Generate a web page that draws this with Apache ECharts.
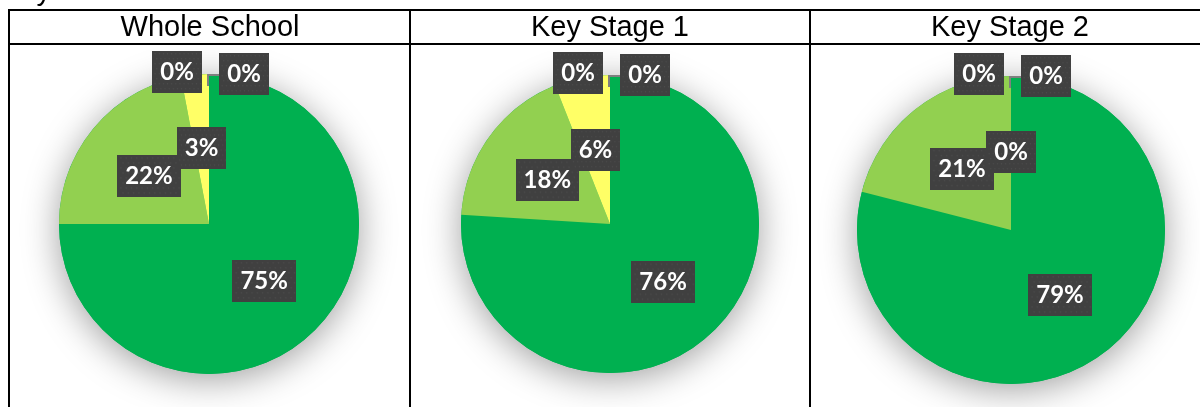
<!DOCTYPE html>
<html>
<head>
<meta charset="utf-8">
<script src="https://cdn.jsdelivr.net/npm/echarts@6/dist/echarts.min.js"></script>
<style>
  html, body { margin: 0; padding: 0; background: #ffffff; }
  #chart { width: 1200px; height: 407px; }
</style>
</head>
<body>
<div id="chart"></div>
<script>
// Survey answers, as percentages of pupils in each group
const categories = ['Strongly agree', 'Agree', 'Not sure', 'Disagree', 'Strongly disagree'];
const groupNames = ['Whole School', 'Key Stage 1', 'Key Stage 2'];
const wholeSchool = [75, 22, 3, 0, 0];
const keyStage1 = [76, 18, 6, 0, 0];
const keyStage2 = [79, 21, 0, 0, 0];
const sliceColors = ['#00B050', '#92D050', '#FFFF66', '#FFC000', '#FF0000'];

// Layout of the three table cells and their pies
const cellCentres = [210, 610, 1010];
const pieLayouts = [
  { cx: 209, cy: 224, r: 150 },
  { cx: 610, cy: 224, r: 149 },
  { cx: 1011, cy: 230, r: 154 }
];
const groupValues = [wholeSchool, keyStage1, keyStage2];

// Dark label box with a faint dotted texture
function makeLabelTexture() {
  const c = document.createElement('canvas');
  c.width = 60; c.height = 42;
  const g = c.getContext('2d');
  g.fillStyle = '#404040';
  g.fillRect(0, 0, c.width, c.height);
  g.fillStyle = '#4b4b4b';
  for (let y = 2; y < c.height; y += 5) {
    for (let x = 2 + ((y / 5) % 2) * 2; x < c.width; x += 5) {
      g.fillRect(x, y, 1.5, 1.5);
    }
  }
  return c;
}
const labelTexture = makeLabelTexture();

// Label nudges per answer: the two empty answers sit at the top edge, one either side
function labelOffset(i, r) {
  if (i === 3) return [-32, -r / 2 + 1];
  if (i === 4) return [35, -r / 2 + 3];
  return [0, 2];
}

const chart = echarts.init(document.getElementById('chart'), null, { renderer: 'canvas' });

const series = [];
const graphic = [];

groupValues.forEach((values, gi) => {
  const L = pieLayouts[gi];
  // Soft drop shadow underneath the whole pie
  series.push({
    type: 'pie',
    silent: true,
    center: [L.cx, L.cy],
    radius: L.r,
    z: 1,
    label: { show: false },
    labelLine: { show: false },
    itemStyle: {
      color: '#00B050',
      shadowBlur: 36,
      shadowOffsetY: 6,
      shadowColor: 'rgba(0,0,0,0.38)'
    },
    data: [{ value: 1, name: '' }]
  });
  // The answers themselves
  series.push({
    type: 'pie',
    name: groupNames[gi],
    center: [L.cx, L.cy],
    radius: L.r,
    startAngle: 90,
    clockwise: true,
    z: 2,
    silent: true,
    avoidLabelOverlap: false,
    minShowLabelAngle: 0,
    stillShowZeroSum: true,
    labelLayout: { hideOverlap: false, moveOverlap: false },
    labelLine: { show: false },
    label: {
      show: true,
      position: 'inside',
      formatter: '{c}%',
      color: '#ffffff',
      fontFamily: 'Lato',
      fontWeight: 'bold',
      fontSize: 24,
      lineHeight: 26,
      padding: [8, 8, 8, 8],
      backgroundColor: { image: labelTexture },
      shadowColor: 'rgba(0,0,0,0.45)',
      shadowBlur: 6,
      shadowOffsetX: 2,
      shadowOffsetY: 3
    },
    itemStyle: { borderWidth: 0 },
    data: values.map((v, i) => ({
      value: v,
      name: categories[i],
      itemStyle: { color: sliceColors[i] },
      label: { offset: labelOffset(i, L.r) }
    }))
  });
  // short leader line to the right-hand top label
  graphic.push({
    type: 'polyline',
    silent: true,
    z: 50,
    shape: { points: [[L.cx - 1, L.cy - L.r + 12], [L.cx - 1, L.cy - L.r + 1], [L.cx + 10, L.cy - L.r + 1]] },
    style: { stroke: '#7f7f7f', lineWidth: 2, fill: null }
  });
  graphic.push({
    type: 'text',
    silent: true,
    x: cellCentres[gi],
    y: 28,
    style: {
      text: groupNames[gi],
      fill: '#000000',
      font: '29px "Liberation Sans", Arial, sans-serif',
      align: 'center',
      verticalAlign: 'middle'
    }
  });
});

// Table rules
const ruleStyle = { stroke: '#000000', lineWidth: 2 };
[[9, 10, 1200, 10], [9, 44, 1200, 44], [9, 9, 9, 407], [410, 9, 410, 407], [810, 9, 810, 407]]
  .forEach(([x1, y1, x2, y2]) => {
    graphic.push({ type: 'line', silent: true, z: 10, shape: { x1, y1, x2, y2 }, style: ruleStyle });
  });

// Tail of the line of text above the table
graphic.push({
  type: 'text',
  silent: true,
  x: 1,
  y: -8,
  style: {
    text: 'Key',
    fill: '#000000',
    font: '29px "Liberation Sans", Arial, sans-serif',
    align: 'left',
    verticalAlign: 'middle'
  }
});

chart.setOption({
  backgroundColor: '#ffffff',
  animation: false,
  series: series,
  graphic: graphic
});
</script>
</body>
</html>
